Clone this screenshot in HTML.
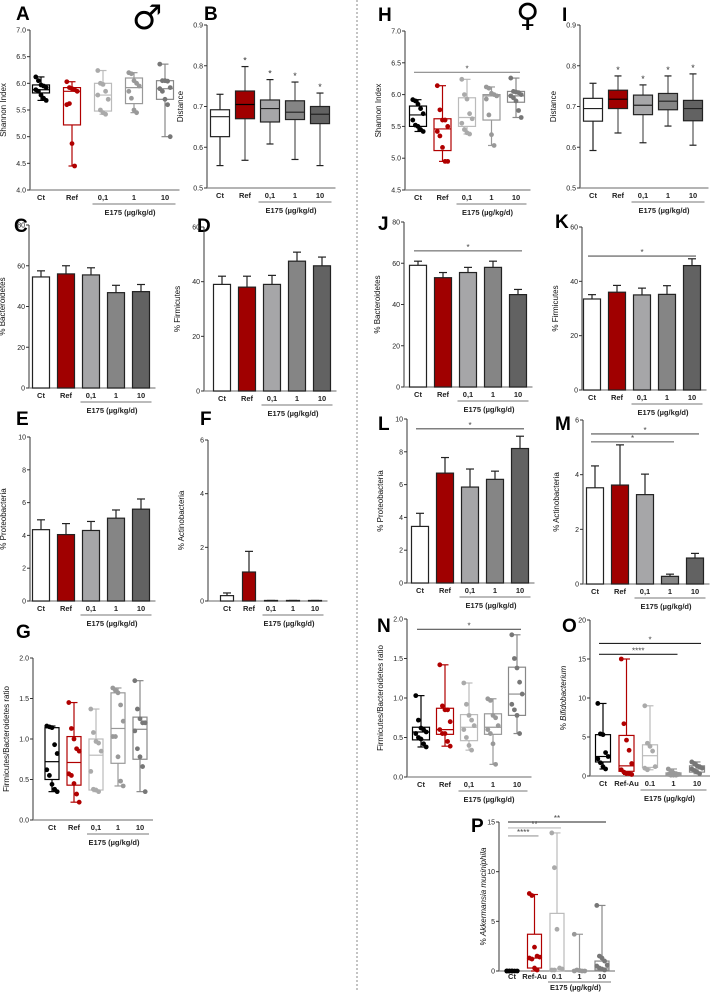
<!DOCTYPE html>
<html><head><meta charset="utf-8"><style>
html,body{margin:0;padding:0;background:#fff}
svg{display:block;font-family:"Liberation Sans",sans-serif}
</style></head><body>
<svg id="fig" width="710" height="992" viewBox="0 0 710 992" xmlns="http://www.w3.org/2000/svg">
<line x1="357" y1="0" x2="357" y2="992" stroke="#888" stroke-width="1" stroke-dasharray="2,2"/>
<text x="132" y="29" font-size="34" font-weight="bold" fill="#000" font-family="DejaVu Sans,sans-serif">♂</text>
<text x="516" y="26" font-size="32" font-weight="bold" fill="#000" font-family="DejaVu Sans,sans-serif">♀</text>
</svg>
<script>
const A_cats=["Ct","Ref","0,1","1","10"];
const A_min=[5.68,4.45,5.42,5.45,5.0];
const A_q1=[5.82,5.22,5.48,5.62,5.7];
const A_med=[5.88,5.85,5.78,5.92,5.9];
const A_q3=[5.97,5.92,6.0,6.1,6.05];
const A_max=[6.12,6.03,6.24,6.2,6.36];
const A_pts=[[6.12,6.05,5.97,5.95,5.92,5.88,5.85,5.78,5.72,5.68],[6.03,5.92,5.9,5.88,5.85,5.6,5.62,4.87,4.45],[6.24,6.0,5.98,5.85,5.7,5.78,5.5,5.45,5.42],[6.2,6.18,6.05,6.0,5.95,5.85,5.72,5.5,5.45],[6.36,6.05,6.05,6.04,5.92,5.9,5.85,5.7,5.6,5.0]];
const B_min=[0.555,0.568,0.608,0.57,0.555];
const B_q1=[0.626,0.67,0.662,0.668,0.658];
const B_med=[0.675,0.705,0.695,0.686,0.681];
const B_q3=[0.692,0.738,0.716,0.714,0.70];
const B_max=[0.73,0.798,0.766,0.76,0.733];
const C_mean=[54.5,56,55.5,46.8,47.3];
const C_sem=[3,4,3.5,3.6,3.5];
const D_mean=[39,38,39,47.5,45.8];
const D_sem=[3,4,3.3,3.3,3.2];
const E_mean=[4.35,4.05,4.3,5.05,5.6];
const E_sem=[0.6,0.67,0.55,0.5,0.62];
const F_mean=[0.2,1.08,0.02,0.02,0.02];
const F_sem=[0.1,0.77,0,0,0];
const G_min=[0.35,0.22,0.35,0.42,0.35];
const G_q1=[0.5,0.43,0.37,0.7,0.75];
const G_med=[0.72,0.71,0.8,1.13,1.12];
const G_q3=[1.14,1.03,1.0,1.57,1.27];
const G_max=[1.16,1.45,1.37,1.63,1.72];
const G_pts=[[1.16,1.15,1.14,0.93,0.82,0.62,0.55,0.44,0.38,0.35],[1.45,1.13,1.0,0.88,0.85,0.57,0.55,0.45,0.32,0.22],[1.37,1.08,0.97,0.95,0.85,0.6,0.38,0.37,0.35],[1.63,1.6,1.57,1.42,1.22,1.03,1.03,0.78,0.48,0.42],[1.72,1.37,1.25,1.2,1.2,1.1,0.88,0.78,0.66,0.35]];
const H_min=[5.42,4.95,5.38,5.2,5.64];
const H_q1=[5.5,5.12,5.5,5.6,5.88];
const H_med=[5.68,5.46,5.64,5.98,5.98];
const H_q3=[5.82,5.62,5.95,6.0,6.05];
const H_max=[5.92,6.14,6.24,6.12,6.26];
const H_pts=[[5.92,5.9,5.85,5.78,5.7,5.6,5.52,5.5,5.45,5.42],[6.14,5.76,5.6,5.6,5.5,5.42,5.35,5.17,4.95,4.95],[6.24,6.0,5.93,5.7,5.62,5.55,5.45,5.4,5.38],[6.12,6.1,6.02,6.0,5.98,5.93,5.68,5.37,5.2],[6.26,6.05,6.04,6.03,6.0,5.98,5.95,5.9,5.75,5.64]];
const I_min=[0.592,0.635,0.611,0.652,0.605];
const I_q1=[0.664,0.695,0.68,0.692,0.665];
const I_med=[0.695,0.718,0.703,0.713,0.695];
const I_q3=[0.72,0.74,0.728,0.732,0.715];
const I_max=[0.757,0.775,0.753,0.775,0.78];
const J_mean=[59,53,55.5,58,44.8];
const J_sem=[2,2.5,2.5,3,2.5];
const K_mean=[33.5,36,35,35.2,45.8];
const K_sem=[1.6,2.5,2.5,3.2,2.5];
const L_mean=[3.45,6.7,5.85,6.32,8.2];
const L_sem=[0.8,0.95,1.1,0.5,0.75];
const M_mean=[3.52,3.62,3.27,0.28,0.95];
const M_sem=[0.8,1.47,0.75,0.08,0.17];
const N_min=[0.38,0.39,0.34,0.16,0.55];
const N_q1=[0.47,0.54,0.46,0.54,0.78];
const N_med=[0.57,0.6,0.63,0.63,1.05];
const N_q3=[0.63,0.87,0.79,0.8,1.39];
const N_max=[1.03,1.42,1.19,0.99,1.8];
const N_pts=[[1.03,0.72,0.62,0.6,0.57,0.55,0.5,0.48,0.42,0.38],[1.42,0.9,0.85,0.85,0.7,0.6,0.55,0.55,0.45,0.39],[1.19,0.92,0.78,0.72,0.65,0.6,0.5,0.4,0.34],[0.99,0.97,0.78,0.75,0.65,0.6,0.55,0.42,0.16],[1.8,1.5,1.38,1.2,1.05,0.92,0.85,0.78,0.55]];
const O_cats=["Ct","Ref-Au","0.1","1","10"];
const O_min=[0.9,0.2,0.8,0.1,0.3];
const O_q1=[1.8,0.6,1.1,0.1,0.5];
const O_med=[2.5,1.3,2.6,0.2,0.9];
const O_q3=[5.3,5.2,4.0,0.4,1.3];
const O_max=[9.3,15,9,0.9,1.8];
const O_pts=[[9.3,5.4,5.3,3.0,2.5,2.2,1.7,1.2,0.9],[15,6.7,4.6,3.3,1.6,0.8,0.5,0.3,0.3,0.2],[9,4.2,3.8,3.2,1.2,1.0,0.8],[0.9,0.6,0.4,0.3,0.2,0.2,0.1,0.1,0.1],[1.8,1.6,1.3,1.2,1.0,0.9,0.7,0.5,0.3]];
const P_min=[0,0,0,0,0];
const P_q1=[0,0.3,0,0,0.1];
const P_med=[0,1.3,0.2,0.05,0.3];
const P_q3=[0.05,3.7,5.8,0.1,1.0];
const P_max=[0.1,7.7,13.9,3.7,6.6];
const P_pts=[[0,0,0,0,0,0,0,0],[7.8,7.6,2.4,1.5,1.4,1.3,1.2,0.3,0.1],[13.9,10.4,4.2,0.3,0.2,0.1,0.1],[3.7,0.1,0.05,0,0,0],[6.6,1.5,1.3,1.0,0.6,0.5,0.3,0.2,0.1]];

const NS="http://www.w3.org/2000/svg";
const svg=document.getElementById('fig');
const PTC=["#000","#b00000","#aaa","#999","#777"];
const BOXS=["#000","#b00000","#bbb","#999","#888"];
const FILL=["#fff","#a00000","#a6a6a8","#858585","#626262"];
function mk(tag,parent,o){const e=document.createElementNS(NS,tag);for(const k in o)e.setAttribute(k,o[k]);parent.appendChild(e);return e;}

function panel(p){
  const g=mk('g',svg,{});
  
  
  const y=v=>p.yBot-(v-p.vmin)/(p.vmax-p.vmin)*(p.yBot-p.yTop);
  const x=i=>p.x0+i*p.step;
  const o1=p.o1||10,o2=p.o2||14,o3=p.o3||25,ylo=p.ylo||24;
  const L=mk('text',g,{x:p.lx,y:p.ly,'font-size':19,'font-weight':'bold',fill:'#000'});
  L.textContent=p.id;
  
  
  const ya=mk('line',g,{x1:p.ax,y1:p.yTop,x2:p.ax,y2:p.yBot,stroke:'#333','stroke-width':1});
  
  
  p.ticks.forEach(t=>{
    mk('line',g,{x1:p.ax-3,y1:y(t),x2:p.ax,y2:y(t),stroke:'#333','stroke-width':1});
    const tl=mk('text',g,{x:p.ax-4,y:y(t)+2.5,'font-size':7,'text-anchor':'end',fill:'#222'});
    tl.textContent=t.toFixed(p.dec);
    
    
  });
  const xend=x(4)+p.bw/2+6;
  const xa=mk('line',g,{x1:p.ax,y1:p.yBot,x2:xend,y2:p.yBot,stroke:'#888','stroke-width':1.2});
  
  
  const yl=mk('text',g,{x:0,y:0,'font-size':8,'text-anchor':'middle',fill:'#111',transform:`translate(${p.ax-ylo},${(p.yTop+p.yBot)/2}) rotate(-90)`});
  if(p.italic){yl.appendChild(document.createTextNode('% '));const ts=mk('tspan',yl,{'font-style':'italic'});ts.textContent=p.italic;}
  else yl.textContent=p.ylabel;
  
  
  const cats=p.cats||A_cats;
  cats.forEach((c,i)=>{
    const t=mk('text',g,{x:x(i),y:p.yBot+o1,'font-size':7.5,'font-weight':'bold','text-anchor':'middle',fill:'#222'});
    t.textContent=c;
    
    
  });
  mk('line',g,{x1:x(2)-p.bw/2-2,y1:p.yBot+o2,x2:x(4)+p.bw/2+2,y2:p.yBot+o2,stroke:'#777','stroke-width':1});
  const et=mk('text',g,{x:x(3)-4,y:p.yBot+o3,'font-size':7.5,'font-weight':'bold','text-anchor':'middle',fill:'#222'});
  et.textContent='E175 (µg/kg/d)';
  
  
  for(let i=0;i<5;i++){
    const cx=x(i),hw=p.bw/2;
    if(p.kind==='bar'){
      const m=p.mean[i],s=p.sem[i];
      mk('line',g,{x1:cx,y1:y(m),x2:cx,y2:y(m+s),stroke:'#222','stroke-width':1.2});
      mk('line',g,{x1:cx-4,y1:y(m+s),x2:cx+4,y2:y(m+s),stroke:'#222','stroke-width':1.2});
      const b=mk('rect',g,{x:cx-hw,y:y(m),width:p.bw,height:p.yBot-y(m),fill:FILL[i],stroke:'#222','stroke-width':1.2});
      
      
    } else {
      const filled=p.kind==='boxfill';
      const sc=filled?'#222':BOXS[i];
      mk('line',g,{x1:cx,y1:y(p.min[i]),x2:cx,y2:y(p.max[i]),stroke:filled&&i>0?'#555':sc,'stroke-width':1.2});
      [p.min[i],p.max[i]].forEach(v=>mk('line',g,{x1:cx-3.5,y1:y(v),x2:cx+3.5,y2:y(v),stroke:sc,'stroke-width':1.2}));
      const b=mk('rect',g,{x:cx-hw,y:y(p.q3[i]),width:p.bw,height:Math.max(0.5,y(p.q1[i])-y(p.q3[i])),fill:filled?FILL[i]:'#fff',stroke:sc,'stroke-width':1.2});
      
      
      mk('line',g,{x1:cx-hw,y1:y(p.med[i]),x2:cx+hw,y2:y(p.med[i]),stroke:filled&&i===1?'#000':sc,'stroke-width':1.2});
      if(p.pts){p.pts[i].forEach((v,j)=>{
        const d=mk('circle',g,{cx:cx+((j%5)-2)*2.6,cy:y(v),r:2.4,fill:PTC[i]});
        
        
      });}
      if(p.stars&&i>0){
        const st=mk('text',g,{x:cx,y:y(p.max[i])-3,'font-size':9,'text-anchor':'middle',fill:'#333'});
        st.textContent='*';
        
        
      }
    }
  }
  (p.sig||[]).forEach(s=>{
    const ln=mk('line',g,{x1:x(0)-4,y1:y(s[1]),x2:x(s[0])+4,y2:y(s[1]),stroke:s[3]||'#555','stroke-width':1.1});
    
    
    const st=mk('text',g,{x:(x(0)+x(s[0]))/2,y:y(s[1])-1,'font-size':8,'text-anchor':'middle',fill:'#444'});
    st.textContent=s[2];
    
    
  });
}
const r=(a,b,s)=>{const o=[];for(let v=a;v<=b+1e-9;v+=s)o.push(+v.toFixed(3));return o;};
panel({id:'A',lx:16,ly:20,kind:'box',ax:30,yTop:30,yBot:190,vmin:4,vmax:7,ticks:r(4,7,0.5),dec:1,x0:41,step:31,bw:17,ylabel:'Shannon Index',min:A_min,q1:A_q1,med:A_med,q3:A_q3,max:A_max,pts:A_pts});
panel({id:'B',lx:204,ly:20,kind:'boxfill',ax:207,yTop:25,yBot:188,vmin:0.5,vmax:0.9,ticks:r(0.5,0.9,0.1),dec:1,x0:220,step:25,bw:19,ylabel:'Distance',min:B_min,q1:B_q1,med:B_med,q3:B_q3,max:B_max,stars:true});
panel({id:'C',lx:14,ly:232,kind:'bar',ax:29,yTop:225,yBot:388,vmin:0,vmax:80,ticks:[0,20,40,60,80],dec:0,x0:41,step:25,bw:17,ylabel:'% Bacteroidetes',mean:C_mean,sem:C_sem});
panel({id:'D',lx:197,ly:232,kind:'bar',ax:204,yTop:227,yBot:391,vmin:0,vmax:60,ticks:[0,20,40,60],dec:0,x0:222,step:25,bw:17,ylabel:'% Firmicutes',mean:D_mean,sem:D_sem});
panel({id:'E',lx:16,ly:425,kind:'bar',ax:30,yTop:437,yBot:601,vmin:0,vmax:10,ticks:[0,2,4,6,8,10],dec:0,x0:41,step:25,bw:17,ylabel:'% Proteobacteria',mean:E_mean,sem:E_sem});
panel({id:'F',lx:200,ly:425,kind:'bar',ax:208,yTop:440,yBot:601,vmin:0,vmax:6,ticks:[0,2,4,6],dec:0,x0:227,step:22,bw:13,ylabel:'% Actinobacteria',mean:F_mean,sem:F_sem});
panel({id:'G',lx:16,ly:638,kind:'box',ax:33,yTop:658,yBot:820,vmin:0,vmax:2,ticks:r(0,2,0.5),dec:1,x0:52,step:22,bw:14,ylabel:'Firmicutes/Bacteroidetes ratio',min:G_min,q1:G_q1,med:G_med,q3:G_q3,max:G_max,pts:G_pts});
panel({id:'H',lx:378,ly:21,kind:'box',ax:405,yTop:31,yBot:190,vmin:4.5,vmax:7,ticks:r(4.5,7,0.5),dec:1,x0:418,step:24.5,bw:17,ylabel:'Shannon Index',min:H_min,q1:H_q1,med:H_med,q3:H_q3,max:H_max,pts:H_pts,sig:[[4,6.35,'*','#888']]});
panel({id:'I',lx:562,ly:21,kind:'boxfill',ax:580,yTop:25,yBot:188,vmin:0.5,vmax:0.9,ticks:r(0.5,0.9,0.1),dec:1,x0:593,step:25,bw:19,ylabel:'Distance',min:I_min,q1:I_q1,med:I_med,q3:I_q3,max:I_max,stars:true});
panel({id:'J',lx:378,ly:230,kind:'bar',ax:404,yTop:222,yBot:387,vmin:0,vmax:80,ticks:[0,20,40,60,80],dec:0,x0:418,step:25,bw:17,ylabel:'% Bacteroidetes',mean:J_mean,sem:J_sem,sig:[[4,66,'*']]});
panel({id:'K',lx:555,ly:228,kind:'bar',ax:582,yTop:227,yBot:390,vmin:0,vmax:60,ticks:[0,20,40,60],dec:0,x0:592,step:25,bw:17,ylabel:'% Firmicutes',mean:K_mean,sem:K_sem,sig:[[4,49.3,'*']]});
panel({id:'L',lx:378,ly:430,kind:'bar',ax:407,yTop:419,yBot:583,vmin:0,vmax:10,ticks:[0,2,4,6,8,10],dec:0,x0:420,step:25,bw:17,ylabel:'% Proteobacteria',mean:L_mean,sem:L_sem,sig:[[4,9.4,'*']]});
panel({id:'M',lx:555,ly:430,kind:'bar',ax:583,yTop:420,yBot:584,vmin:0,vmax:6,ticks:[0,2,4,6],dec:0,x0:595,step:25,bw:17,ylabel:'% Actinobacteria',mean:M_mean,sem:M_sem,sig:[[4,5.49,'*'],[3,5.2,'*']]});
panel({id:'N',lx:377,ly:632,kind:'box',ax:407,yTop:619,yBot:777,vmin:0,vmax:2,ticks:r(0,2,0.5),dec:1,x0:421,step:24,bw:17,ylabel:'Firmicutes/Bacteroidetes ratio',min:N_min,q1:N_q1,med:N_med,q3:N_q3,max:N_max,pts:N_pts,sig:[[4,1.87,'*']]});
panel({id:'O',lx:562,ly:632,kind:'box',ax:590,yTop:620,yBot:776,vmin:0,vmax:20,ticks:[0,5,10,15,20],dec:0,x0:603,step:23.5,bw:15,italic:'Bifidobacterium',cats:O_cats,min:O_min,q1:O_q1,med:O_med,q3:O_q3,max:O_max,pts:O_pts,sig:[[4,17,'*','#222'],[3,15.6,'****','#222']]});
panel({id:'P',lx:471,ly:832,kind:'box',ax:499,yTop:822,yBot:971,vmin:0,vmax:15,ticks:[0,5,10,15],dec:0,x0:512,step:22.5,bw:14,ylo:13,o1:8,o2:11,o3:19,italic:'Akkermansia muciniphila',cats:O_cats,min:P_min,q1:P_q1,med:P_med,q3:P_q3,max:P_max,pts:P_pts,sig:[[4,15,'**','#222'],[2,14.4,'**','#bbb'],[1,13.6,'****','#999']]});
</script>
</body></html>
